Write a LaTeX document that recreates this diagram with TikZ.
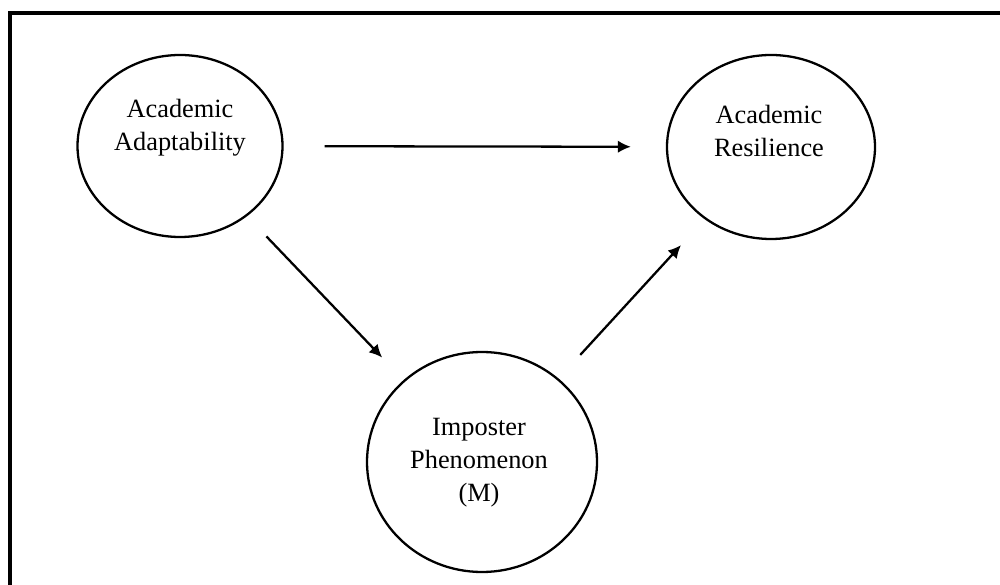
\documentclass[tikz,border=0pt]{standalone}
\usepackage{fontspec}
\setmainfont{Liberation Serif}
\usetikzlibrary{shapes.geometric}
\usetikzlibrary{arrows.meta}

\begin{document}
\begin{tikzpicture}
	\tikzstyle{var}=[draw, ellipse, line width=1.3pt, inner sep=0pt]
	\tikzstyle{txt}=[align=center, font=\fontsize{15}{18.8}\selectfont]
	\tikzstyle{path}=[-{Latex[length=2.6mm, width=2.5mm]}, line width=1.3pt]

	\useasboundingbox (0,0) rectangle (20,-11.7);
	\draw[line width=1.8pt] (0.2,-11.7) -- (0.2,-0.26) -- (20,-0.26);

	\node (adapt) [var, minimum width=4.1cm, minimum height=3.64cm] at (3.6,-2.92) {};
	\node (adapttxt) [txt] at (3.6,-2.56) {Academic\\Adaptability};
	\node (resil) [var, minimum width=4.16cm, minimum height=3.68cm] at (15.42,-2.94) {};
	\node (resiltxt) [txt] at (15.38,-2.62) {Academic\\Resilience};
	\node (impost) [var, minimum width=4.6cm, minimum height=4.4cm] at (9.64,-9.24) {};
	\node (imposttxt) [txt] at (9.58,-9.26) {Imposter\\Phenomenon\\(M)};

	\draw[path, shorten <=0.82cm, shorten >=0.7cm] (adapt) -- (resil);
	\draw[path, shorten <=0.56cm, shorten >=0.62cm] (adapt) -- (impost);
	\draw[path, shorten <=0.64cm, shorten >=0.7cm] (impost) -- (resil);
\end{tikzpicture}
\end{document}
